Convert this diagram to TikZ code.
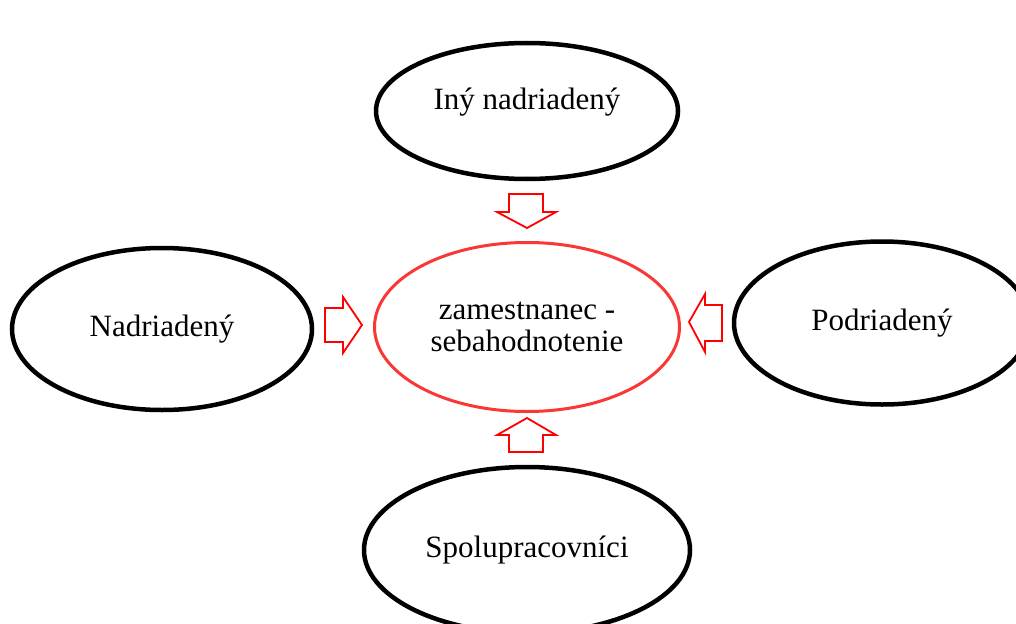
\documentclass[tikz,border=0pt]{standalone}
\usepackage{fontspec}
\setmainfont{Liberation Serif}
\usetikzlibrary{shapes.geometric}
\definecolor{redline}{RGB}{250,55,55}
\tikzset{
  txt/.style={font=\fontsize{31}{32}\selectfont, align=center},
  outer/.style={ellipse, draw=black, line width=4.5pt, inner sep=0pt, txt},
  inner/.style={ellipse, draw=redline, line width=3pt, inner sep=0pt, txt},
  blockarrow/.style={draw=red, line width=1.8pt, line join=miter, fill=white}
}
\begin{document}
\begin{tikzpicture}[x=1pt,y=-1pt]
\useasboundingbox (0,0) rectangle (1016,623);
\clip (0,0) rectangle (1016,623);
\node[outer, minimum width=302pt, minimum height=136pt,
      label={[txt, yshift=9pt]center:Iný nadriadený}] (top) at (527,111) {};
\node[outer, minimum width=300pt, minimum height=162pt] (left) at (162,329) {Nadriadený};
\node[outer, minimum width=296pt, minimum height=163pt] (right) at (882,323) {Podriadený};
\node[outer, minimum width=326pt, minimum height=166pt] (bottom) at (527,550) {Spolupracovníci};
\node[inner, minimum width=305pt, minimum height=169pt] (center) at (527,327) {zamestnanec -\\sebahodnotenie};
% down arrow
\draw[blockarrow] (509,194) -- (543,194) -- (543,212) -- (556,212) -- (527,228) -- (497,212) -- (509,212) -- cycle;
% up arrow
\draw[blockarrow] (509,452) -- (543,452) -- (543,435) -- (556,435) -- (527,418) -- (497,435) -- (509,435) -- cycle;
% right arrow
\draw[blockarrow] (325,308) -- (343,308) -- (343,297) -- (362,325) -- (343,353) -- (343,342) -- (325,342) -- cycle;
% left arrow
\draw[blockarrow] (722,305) -- (705,305) -- (705,294) -- (689,322) -- (705,352) -- (705,341) -- (722,341) -- cycle;
\end{tikzpicture}
\end{document}
